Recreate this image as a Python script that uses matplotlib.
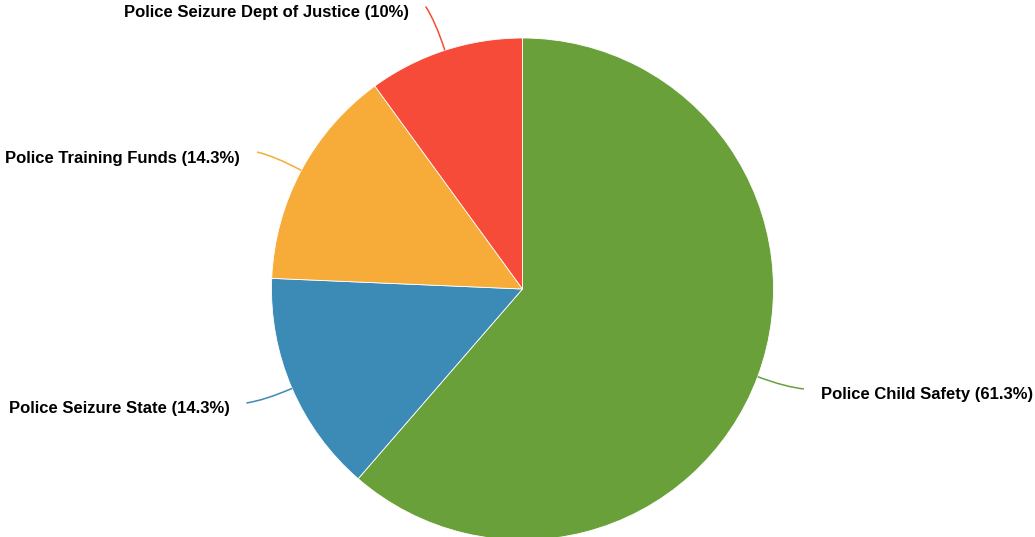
import matplotlib.pyplot as plt
import numpy as np
from matplotlib.path import Path
from matplotlib.patches import PathPatch

# Slice data, clockwise from 12 o'clock
labels = ['Police Child Safety', 'Police Seizure State',
          'Police Training Funds', 'Police Seizure Dept of Justice']
shares = [61.3, 14.3, 14.3, 10.0]
colors = ['#69a03a', '#3c8ab6', '#f7ab38', '#f74b39']

W, H = 1035, 537
fig = plt.figure(figsize=(W / 100, H / 100), dpi=100)
ax = fig.add_axes([0, 0, 1, 1])

cx, cy, r = 522.5, 248.0, 251.0

wedges, _ = ax.pie(shares, colors=colors, startangle=90, counterclock=False,
                   center=(cx, cy), radius=r, frame=True,
                   wedgeprops=dict(edgecolor='white', linewidth=0.6))

# Curved leader lines + labels
for w, lab, val, col in zip(wedges, labels, shares, colors):
    mid = np.deg2rad((w.theta1 + w.theta2) / 2)
    side = 1 if np.cos(mid) >= 0 else -1
    p0 = (cx + r * np.cos(mid), cy + r * np.sin(mid))
    p1 = (cx + 1.12 * r * np.cos(mid), cy + 1.12 * r * np.sin(mid))
    end_ang = mid - side * np.deg2rad(0.9) * np.sign(np.sin(mid))
    p2 = (cx + 1.19 * r * np.cos(end_ang), cy + 1.19 * r * np.sin(end_ang))
    path = Path([p0, p1, p2], [Path.MOVETO, Path.CURVE3, Path.CURVE3])
    ax.add_patch(PathPatch(path, fill=False, edgecolor=col, linewidth=1.1))
    ax.text(p2[0] + side * 17, p2[1] - 6, f'{lab} ({val:g}%)',
            ha='left' if side > 0 else 'right', va='center',
            fontsize=12.0, fontweight='bold', family='Liberation Sans',
            color='black')

ax.set_xlim(0, W)
ax.set_ylim(0, H)
ax.set_aspect('auto')
ax.axis('off')

fig.savefig('out.png', dpi=100)
